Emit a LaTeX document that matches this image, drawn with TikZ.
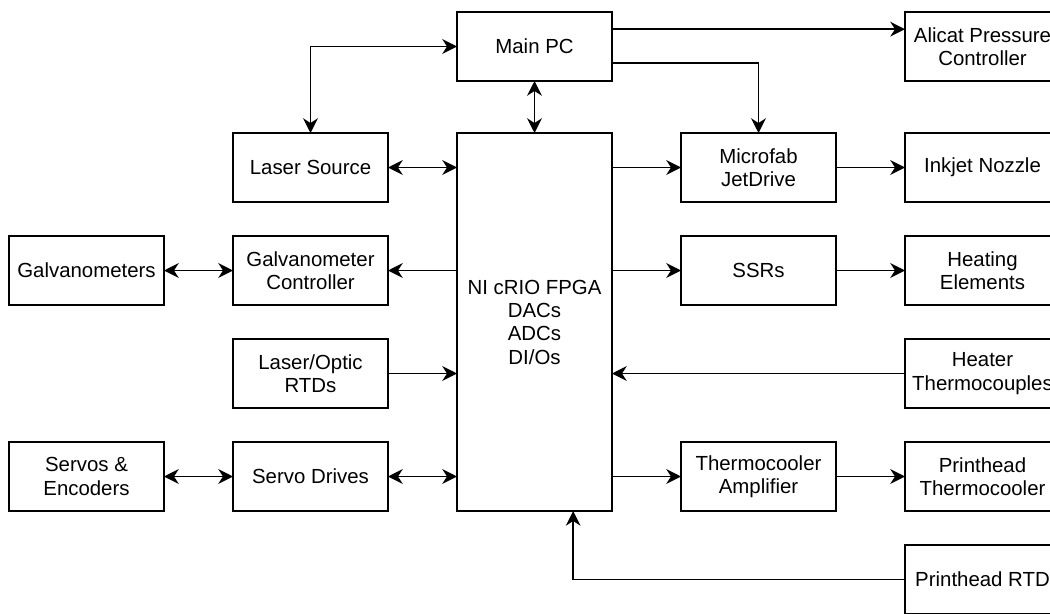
\documentclass[tikz,border=0pt]{standalone}
\usepackage{fontspec}
\setmainfont{Liberation Sans}
\usetikzlibrary{arrows.meta, positioning}

\begin{document}
\begin{tikzpicture}[x=0.75pt, y=-0.75pt, node distance=25.5pt and 51.75pt,
  >={Stealth[length=11pt, width=11pt, inset=3.5pt]}, line width=1.4pt,
  box/.style={draw, line width=1.4pt, outer sep=0pt, minimum height=51.75pt, minimum width=116.25pt,
    align=center, font=\fontsize{15.3}{17.5}\selectfont}]
  \path[use as bounding box, fill=white] (0,0) rectangle (1050,614);
  \node[box, minimum height=283.5pt] (fpga) at (534.5,322) {NI cRIO FPGA\\DACs\\ADCs\\DI/Os};
  \node[box, above=39pt of fpga] (pc) {Main PC};
  % left side
  \node[box, below left=0pt and 51.75pt of fpga.north west] (laser) {Laser Source};
  \node[box, below=of laser] (galvoctl) {Galvanometer\\Controller};
  \node[box, below=of galvoctl] (rtds) {Laser/Optic\\RTDs};
  \node[box, below=of rtds] (servodrv) {Servo Drives};
  \node[box, left=of galvoctl] (galvos) {Galvanometers};
  \node[box, left=of servodrv] (servos) {Servos \&\\Encoders};
  % right side
  \node[box, below right=0pt and 51.75pt of fpga.north east] (jetdrive) {Microfab\\JetDrive};
  \node[box, below=of jetdrive] (ssr) {SSRs};
  \node[box, below=102.75pt of ssr] (tcamp) {Thermocooler\\Amplifier};
  \node[box, right=of jetdrive] (nozzle) {Inkjet Nozzle};
  \node[box, above=39pt of nozzle] (alicat) {Alicat Pressure\\Controller};
  \node[box, right=of ssr] (heat) {Heating\\Elements};
  \node[box, below=of heat] (heattc) {Heater\\Thermocouples};
  \node[box, right=of tcamp] (phtc) {Printhead\\Thermocooler};
  \node[box, below=of phtc] (phrtd) {Printhead RTD};
  % main pc links
  \draw[->] ([yshift=13pt]pc.east) -- ([yshift=13pt]alicat.west);
  \draw[->] ([yshift=-12.4pt]pc.east) -| (jetdrive.north);
  \draw[<->] (pc.west) -| (laser.north);
  \draw[<->] (pc.south) -- (fpga.north);
  % left links
  \draw[<->] (laser.east) -- (laser.east -| fpga.west);
  \draw[->] (galvoctl.east -| fpga.west) -- (galvoctl.east);
  \draw[->] (rtds.east) -- (rtds.east -| fpga.west);
  \draw[<->] (servodrv.east) -- (servodrv.east -| fpga.west);
  \draw[<->] (galvos) -- (galvoctl);
  \draw[<->] (servos) -- (servodrv);
  % right links
  \draw[->] (jetdrive.west -| fpga.east) -- (jetdrive.west);
  \draw[->] (ssr.west -| fpga.east) -- (ssr.west);
  \draw[->] (tcamp.west -| fpga.east) -- (tcamp.west);
  \draw[->] (heattc.west) -- (heattc.west -| fpga.east);
  \draw[->] (jetdrive) -- (nozzle);
  \draw[->] (ssr) -- (heat);
  \draw[->] (tcamp) -- (phtc);
  \draw[->] (phrtd.west) -| ([xshift=29pt]fpga.south);
\end{tikzpicture}
\end{document}
